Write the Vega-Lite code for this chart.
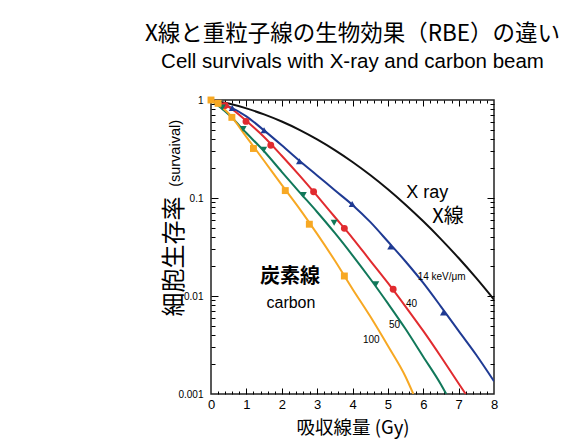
{
  "$schema": "https://vega.github.io/schema/vega-lite/v6.json",
  "width": 283,
  "height": 294,
  "autosize": "none",
  "padding": {"left": 211, "top": 100, "right": 94, "bottom": 47},
  "background": "white",
  "config": {"view": {"stroke": "#222", "strokeWidth": 1.5}, "font": "Liberation Sans"},
  "title": {
    "text": "X線と重粒子線の生物効果（RBE）の違い",
    "subtitle": "Cell survivals with X-ray and carbon beam",
    "anchor": "middle",
    "font": "Noto Sans CJK JP",
    "fontSize": 22.5,
    "fontWeight": "normal",
    "color": "#000",
    "subtitleFont": "Liberation Sans",
    "subtitleFontSize": 20.5,
    "subtitleColor": "#000",
    "subtitlePadding": 6,
    "offset": 23
  },
  "datasets": {
    "curves": [
      {"series": "X ray", "dose": 0, "s": 1},
      {"series": "X ray", "dose": 0.5, "s": 0.919},
      {"series": "X ray", "dose": 1, "s": 0.821},
      {"series": "X ray", "dose": 1.5, "s": 0.713},
      {"series": "X ray", "dose": 2, "s": 0.603},
      {"series": "X ray", "dose": 2.5, "s": 0.496},
      {"series": "X ray", "dose": 3, "s": 0.396},
      {"series": "X ray", "dose": 3.5, "s": 0.308},
      {"series": "X ray", "dose": 4, "s": 0.233},
      {"series": "X ray", "dose": 4.5, "s": 0.1715},
      {"series": "X ray", "dose": 5, "s": 0.1228},
      {"series": "X ray", "dose": 5.5, "s": 0.0854},
      {"series": "X ray", "dose": 6, "s": 0.0578},
      {"series": "X ray", "dose": 6.5, "s": 0.0381},
      {"series": "X ray", "dose": 7, "s": 0.0244},
      {"series": "X ray", "dose": 7.5, "s": 0.0152},
      {"series": "X ray", "dose": 8, "s": 0.0092},
      {"series": "14", "dose": 0, "s": 1},
      {"series": "14", "dose": 0.5, "s": 0.86},
      {"series": "14", "dose": 1, "s": 0.68},
      {"series": "14", "dose": 1.5, "s": 0.49},
      {"series": "14", "dose": 2, "s": 0.345},
      {"series": "14", "dose": 2.5, "s": 0.24},
      {"series": "14", "dose": 3, "s": 0.17},
      {"series": "14", "dose": 3.5, "s": 0.12},
      {"series": "14", "dose": 4, "s": 0.085},
      {"series": "14", "dose": 4.5, "s": 0.057},
      {"series": "14", "dose": 5, "s": 0.036},
      {"series": "14", "dose": 5.5, "s": 0.0225},
      {"series": "14", "dose": 6, "s": 0.0136},
      {"series": "14", "dose": 6.5, "s": 0.0078},
      {"series": "14", "dose": 7, "s": 0.0044},
      {"series": "14", "dose": 7.5, "s": 0.0025},
      {"series": "14", "dose": 8, "s": 0.00135},
      {"series": "40", "dose": 0, "s": 1},
      {"series": "40", "dose": 0.5, "s": 0.85},
      {"series": "40", "dose": 1, "s": 0.61},
      {"series": "40", "dose": 1.5, "s": 0.42},
      {"series": "40", "dose": 2, "s": 0.27},
      {"series": "40", "dose": 2.5, "s": 0.17},
      {"series": "40", "dose": 3, "s": 0.105},
      {"series": "40", "dose": 3.5, "s": 0.064},
      {"series": "40", "dose": 4, "s": 0.039},
      {"series": "40", "dose": 4.5, "s": 0.023},
      {"series": "40", "dose": 5, "s": 0.0136},
      {"series": "40", "dose": 5.5, "s": 0.0078},
      {"series": "40", "dose": 6, "s": 0.0044},
      {"series": "40", "dose": 6.5, "s": 0.0024},
      {"series": "40", "dose": 7, "s": 0.00128},
      {"series": "40", "dose": 7.2, "s": 0.001},
      {"series": "50", "dose": 0, "s": 1},
      {"series": "50", "dose": 0.5, "s": 0.71},
      {"series": "50", "dose": 1, "s": 0.46},
      {"series": "50", "dose": 1.5, "s": 0.3},
      {"series": "50", "dose": 2, "s": 0.185},
      {"series": "50", "dose": 2.5, "s": 0.115},
      {"series": "50", "dose": 3, "s": 0.072},
      {"series": "50", "dose": 3.5, "s": 0.044},
      {"series": "50", "dose": 4, "s": 0.026},
      {"series": "50", "dose": 4.5, "s": 0.015},
      {"series": "50", "dose": 5, "s": 0.0084},
      {"series": "50", "dose": 5.5, "s": 0.0046},
      {"series": "50", "dose": 6, "s": 0.0024},
      {"series": "50", "dose": 6.5, "s": 0.00125},
      {"series": "50", "dose": 6.65, "s": 0.001},
      {"series": "100", "dose": 0, "s": 1},
      {"series": "100", "dose": 0.5, "s": 0.73},
      {"series": "100", "dose": 1, "s": 0.42},
      {"series": "100", "dose": 1.5, "s": 0.24},
      {"series": "100", "dose": 2, "s": 0.136},
      {"series": "100", "dose": 2.5, "s": 0.078},
      {"series": "100", "dose": 3, "s": 0.043},
      {"series": "100", "dose": 3.5, "s": 0.023},
      {"series": "100", "dose": 4, "s": 0.0118},
      {"series": "100", "dose": 4.5, "s": 0.0062},
      {"series": "100", "dose": 5, "s": 0.0031},
      {"series": "100", "dose": 5.5, "s": 0.0015},
      {"series": "100", "dose": 5.72, "s": 0.001}
    ],
    "markers": [
      {"series": "14", "dose": 0.6, "s": 0.83},
      {"series": "14", "dose": 1.5, "s": 0.49},
      {"series": "14", "dose": 2.5, "s": 0.237},
      {"series": "14", "dose": 3.99, "s": 0.087},
      {"series": "14", "dose": 5.08, "s": 0.032},
      {"series": "14", "dose": 6.57, "s": 0.0068},
      {"series": "40", "dose": 0.4, "s": 0.88},
      {"series": "40", "dose": 0.99, "s": 0.605},
      {"series": "40", "dose": 1.69, "s": 0.345},
      {"series": "40", "dose": 2.9, "s": 0.116},
      {"series": "40", "dose": 3.77, "s": 0.049},
      {"series": "40", "dose": 5.15, "s": 0.0117},
      {"series": "50", "dose": 0.32, "s": 0.84},
      {"series": "50", "dose": 0.91, "s": 0.505},
      {"series": "50", "dose": 1.49, "s": 0.31},
      {"series": "50", "dose": 2.61, "s": 0.107},
      {"series": "50", "dose": 3.48, "s": 0.056},
      {"series": "50", "dose": 4.66, "s": 0.0132},
      {"series": "100", "dose": 0, "s": 1},
      {"series": "100", "dose": 0.2, "s": 0.925},
      {"series": "100", "dose": 0.59, "s": 0.665},
      {"series": "100", "dose": 1.2, "s": 0.32},
      {"series": "100", "dose": 2.1, "s": 0.119},
      {"series": "100", "dose": 2.78, "s": 0.054},
      {"series": "100", "dose": 3.77, "s": 0.016}
    ]
  },
  "resolve": {"axis": {"x": "independent", "y": "independent"}},
  "layer": [
    {
      "data": {"name": "curves"},
      "mark": {"type": "line", "strokeWidth": 2, "interpolate": "monotone", "clip": true},
      "encoding": {
        "x": {"field": "dose", "type": "quantitative",
          "scale": {"domain": [0, 8], "nice": false, "zero": false},
          "axis": {"orient": "bottom", "values": [0, 1, 2, 3, 4, 5, 6, 7, 8], "ticks": false, "domain": false, "grid": false,
            "labelFont": "Liberation Sans", "labelFontSize": 13, "labelColor": "#000", "labelPadding": 4, "labelFlush": false,
            "title": "吸収線量 (Gy)", "titleFont": "Noto Sans CJK JP", "titleFontSize": 18.5, "titleFontWeight": "normal", "titleColor": "#000", "titlePadding": 7}},
        "y": {"field": "s", "type": "quantitative",
          "scale": {"type": "log", "domain": [0.001, 1], "nice": false},
          "axis": {"orient": "left", "values": [1, 0.1, 0.01, 0.001], "format": "~g", "ticks": false, "domain": false, "grid": false,
            "labelFont": "Liberation Sans", "labelFontSize": 10, "labelColor": "#000", "labelPadding": 8, "labelFlush": false,
            "title": "細胞生存率", "titleFont": "Noto Sans CJK JP", "titleFontSize": 24, "titleFontWeight": "normal", "titleColor": "#000", "titlePadding": -9, "titleY": 156}},
        "color": {"field": "series", "type": "nominal",
          "scale": {"domain": ["X ray", "14", "40", "50", "100"], "range": ["#111111", "#1f3a93", "#e12b2f", "#11785a", "#f7a823"]},
          "legend": null}
      }
    },
    {
      "data": {"name": "markers"},
      "mark": {"type": "point", "filled": true, "size": 48, "opacity": 1},
      "encoding": {
        "x": {"field": "dose", "type": "quantitative",
          "scale": {"domain": [0, 8], "nice": false, "zero": false},
          "axis": {"orient": "bottom", "values": [1, 2, 3, 4, 5, 6, 7], "labels": false, "domain": false, "grid": false, "tickSize": -6, "tickColor": "#000", "tickWidth": 1, "title": null}},
        "y": {"field": "s", "type": "quantitative",
          "scale": {"type": "log", "domain": [0.001, 1], "nice": false},
          "axis": {"orient": "left", "values": [0.1, 0.01], "labels": false, "domain": false, "grid": false, "tickSize": -7, "tickColor": "#000", "tickWidth": 1, "title": null}},
        "color": {"field": "series", "type": "nominal",
          "scale": {"domain": ["X ray", "14", "40", "50", "100"], "range": ["#111111", "#1f3a93", "#e12b2f", "#11785a", "#f7a823"]},
          "legend": null},
        "shape": {"field": "series", "type": "nominal",
          "scale": {"domain": ["14", "40", "50", "100"], "range": ["triangle-up", "circle", "triangle-down", "square"]},
          "legend": null}
      }
    },
    {
      "data": {"values": [{"dose": 6.11, "s": 0.1, "label": "X ray"}]},
      "mark": {"type": "text", "font": "Liberation Sans", "fontSize": 18, "align": "center", "baseline": "alphabetic", "color": "#000"},
      "encoding": {
        "x": {"field": "dose", "type": "quantitative",
          "scale": {"domain": [0, 8], "nice": false, "zero": false},
          "axis": {"orient": "bottom", "values": [0.2, 0.4, 0.6, 0.8, 1.2, 1.4, 1.6, 1.8, 2.2, 2.4, 2.6, 2.8, 3.2, 3.4, 3.6, 3.8, 4.2, 4.4, 4.6, 4.8, 5.2, 5.4, 5.6, 5.8, 6.2, 6.4, 6.6, 6.8, 7.2, 7.4, 7.6, 7.8],
            "labels": false, "domain": false, "grid": false, "tickSize": -3, "tickColor": "#000", "tickWidth": 1, "title": null}},
        "y": {"field": "s", "type": "quantitative",
          "scale": {"type": "log", "domain": [0.001, 1], "nice": false},
          "axis": {"orient": "left", "values": [0.002, 0.003, 0.004, 0.005, 0.006, 0.007, 0.008, 0.009, 0.02, 0.03, 0.04, 0.05, 0.06, 0.07, 0.08, 0.09, 0.2, 0.3, 0.4, 0.5, 0.6, 0.7, 0.8, 0.9],
            "labels": false, "domain": false, "grid": false, "tickSize": -4, "tickColor": "#000", "tickWidth": 1, "title": null}},
        "text": {"field": "label"}
      }
    },
    {
      "data": {"values": [{"dose": 6.7, "s": 0.0556, "label": "X線"}]},
      "mark": {"type": "text", "font": "Noto Sans CJK JP", "fontSize": 20, "align": "center", "baseline": "alphabetic", "color": "#000"},
      "encoding": {
        "x": {"field": "dose", "type": "quantitative",
          "scale": {"domain": [0, 8], "nice": false, "zero": false},
          "axis": {"orient": "top", "values": [1, 2, 3, 4, 5, 6, 7], "labels": false, "domain": false, "grid": false, "tickSize": -6, "tickColor": "#000", "tickWidth": 1, "title": null}},
        "y": {"field": "s", "type": "quantitative",
          "scale": {"type": "log", "domain": [0.001, 1], "nice": false},
          "axis": {"orient": "right", "values": [0.1, 0.01], "labels": false, "domain": false, "grid": false, "tickSize": -7, "tickColor": "#000", "tickWidth": 1, "title": null}},
        "text": {"field": "label"}
      }
    },
    {
      "data": {"values": [{"dose": 2.23, "s": 0.0136, "label": "炭素線"}]},
      "mark": {"type": "text", "font": "Noto Sans CJK JP", "fontSize": 20, "fontWeight": "bold", "align": "center", "baseline": "alphabetic", "color": "#000"},
      "encoding": {
        "x": {"field": "dose", "type": "quantitative",
          "scale": {"domain": [0, 8], "nice": false, "zero": false},
          "axis": {"orient": "top", "values": [0.2, 0.4, 0.6, 0.8, 1.2, 1.4, 1.6, 1.8, 2.2, 2.4, 2.6, 2.8, 3.2, 3.4, 3.6, 3.8, 4.2, 4.4, 4.6, 4.8, 5.2, 5.4, 5.6, 5.8, 6.2, 6.4, 6.6, 6.8, 7.2, 7.4, 7.6, 7.8],
            "labels": false, "domain": false, "grid": false, "tickSize": -3, "tickColor": "#000", "tickWidth": 1, "title": null}},
        "y": {"field": "s", "type": "quantitative",
          "scale": {"type": "log", "domain": [0.001, 1], "nice": false},
          "axis": {"orient": "right", "values": [0.002, 0.003, 0.004, 0.005, 0.006, 0.007, 0.008, 0.009, 0.02, 0.03, 0.04, 0.05, 0.06, 0.07, 0.08, 0.09, 0.2, 0.3, 0.4, 0.5, 0.6, 0.7, 0.8, 0.9],
            "labels": false, "domain": false, "grid": false, "tickSize": -4, "tickColor": "#000", "tickWidth": 1, "title": null}},
        "text": {"field": "label"}
      }
    },
    {
      "data": {"values": [{"dose": 2.26, "s": 0.00755, "label": "carbon"}]},
      "mark": {"type": "text", "font": "Liberation Sans", "fontSize": 16, "align": "center", "baseline": "alphabetic", "color": "#000"},
      "encoding": {
        "x": {"field": "dose", "type": "quantitative", "scale": {"domain": [0, 8], "nice": false, "zero": false}, "axis": null},
        "y": {"field": "s", "type": "quantitative", "scale": {"type": "log", "domain": [0.001, 1], "nice": false}, "axis": null},
        "text": {"field": "label"}
      }
    },
    {
      "data": {"values": [
        {"dose": 6.52, "s": 0.01456, "label": "14 keV/μm"},
        {"dose": 5.67, "s": 0.00771, "label": "40"},
        {"dose": 5.19, "s": 0.00471, "label": "50"},
        {"dose": 4.53, "s": 0.00331, "label": "100"}
      ]},
      "mark": {"type": "text", "font": "Liberation Sans", "fontSize": 10, "align": "center", "baseline": "alphabetic", "color": "#000"},
      "encoding": {
        "x": {"field": "dose", "type": "quantitative", "scale": {"domain": [0, 8], "nice": false, "zero": false}, "axis": null},
        "y": {"field": "s", "type": "quantitative", "scale": {"type": "log", "domain": [0.001, 1], "nice": false}, "axis": null},
        "text": {"field": "label"}
      }
    },
    {
      "data": {"values": [{"dose": -1.0, "s": 0.285, "label": "(survaival)"}]},
      "mark": {"type": "text", "font": "Liberation Sans", "fontSize": 14.5, "angle": 270, "align": "center", "baseline": "middle", "color": "#000"},
      "encoding": {
        "x": {"field": "dose", "type": "quantitative", "scale": {"domain": [0, 8], "nice": false, "zero": false}, "axis": null},
        "y": {"field": "s", "type": "quantitative", "scale": {"type": "log", "domain": [0.001, 1], "nice": false}, "axis": null},
        "text": {"field": "label"}
      }
    }
  ]
}
